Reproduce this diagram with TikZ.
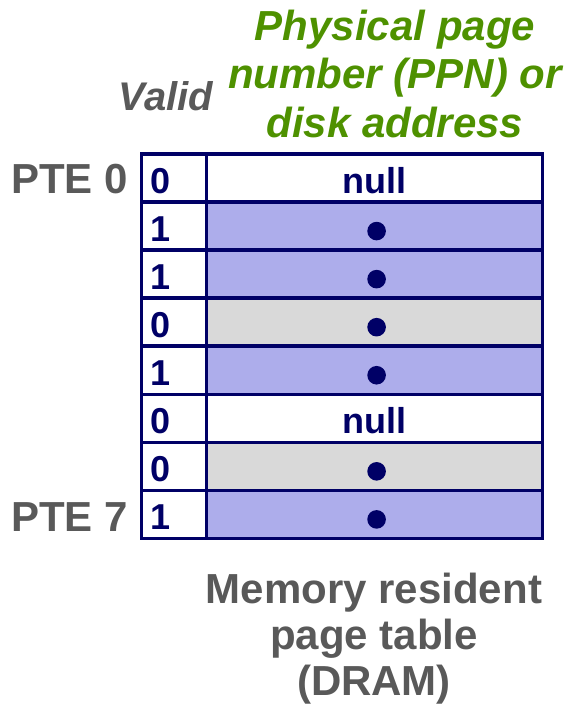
\documentclass[tikz,border=0pt]{standalone}
\usepackage{fontspec}
\setmainfont{Liberation Sans}
\definecolor{ptenavy}{RGB}{0,0,102}
\definecolor{ptevalid}{RGB}{173,173,235}
\definecolor{ptedisk}{RGB}{217,217,217}
\definecolor{ptegray}{RGB}{89,89,89}
\definecolor{ptegreen}{RGB}{78,145,0}
\begin{document}
\begin{tikzpicture}[x=1pt, y=-1pt, every node/.style = {inner sep=0pt, outer sep=0pt},
      cell/.style = {draw=ptenavy, line width=3.5pt, anchor=north west, minimum height=48.05pt, text=ptenavy,
        text height=31pt, text depth=0pt, font=\bfseries\fontsize{36}{40}\selectfont},
      validcell/.style = {cell, fill=white, inner xsep=9pt, text width=47pt, align=left},
      entrycell/.style = {cell, minimum width=335.8pt},
      pte/.style = {anchor=base east, text=ptegray, font=\bfseries\fontsize{42}{46}\selectfont},
      caption/.style = {text=ptegray, align=center, font=\bfseries\fontsize{42}{46}\selectfont}]
      \useasboundingbox (0,0) rectangle (569,704);
      \foreach \bit/\shade/\ppn [count=\i from 0] in {0/white/null, 1/ptevalid/{}, 1/ptevalid/{}, 0/ptedisk/{},
          1/ptevalid/{}, 0/white/null, 0/ptedisk/{}, 1/ptevalid/{}} {
        \node[validcell] (v\i) at (141.7, 154+48.05*\i) {\bit};
        \node[entrycell, fill=\shade] (e\i) at (206.7, 154+48.05*\i) {\ppn};
      }
      \foreach \i in {1,2,3,4,6,7}
        \fill[ptenavy] ([xshift=2pt, yshift=-5pt]e\i.center) circle (9.3pt);
      \node[pte] (pte0) at ([xshift=-13.7pt, yshift=-39.5pt]v0.north west) {PTE 0};
      \node[pte] (pte7) at ([xshift=-13.7pt, yshift=-41pt]v7.north west) {PTE 7};
      \node[anchor=base east, text=ptegray, font=\bfseries\itshape\fontsize{40}{46}\selectfont] (valid) at (213,110) {Valid};
      \node[anchor=base, text=ptegreen, align=center, font=\bfseries\itshape\fontsize{42}{48.5}\selectfont] (ppn) at (395,137)
        {Physical page\\number (PPN) or\\disk address};
      \node[caption, anchor=base] (dram) at (374,695) {Memory resident\\page table\\(DRAM)};
\end{tikzpicture}
\end{document}
